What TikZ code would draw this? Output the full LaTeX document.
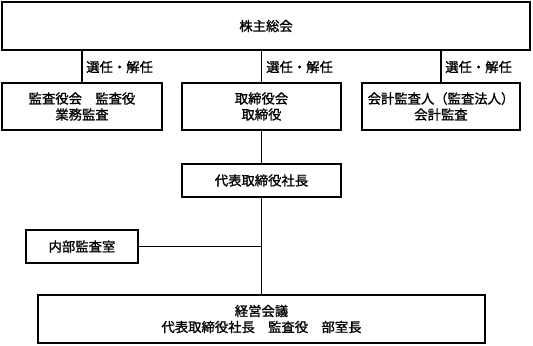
\documentclass[tikz,border=0pt]{standalone}
\usepackage{fontspec}
\newfontfamily\jp[AutoFakeBold=1.2]{Noto Sans CJK JP}
\begin{document}
\begin{tikzpicture}[x=0.75pt,y=-0.75pt,
  box/.style={draw=black,line width=0.9pt,inner sep=0pt,align=center,
    font=\jp\bfseries\fontsize{10}{12}\selectfont},
  lab/.style={inner sep=0pt,font=\jp\bfseries\fontsize{10}{12}\selectfont},
  conn/.style={line width=0.9pt}]
\useasboundingbox (0,0) rectangle (533,346);
\node[box,minimum width=396pt,minimum height=36pt] (top) at (266,26) {株主総会};
\node[box,minimum width=120pt,minimum height=35.25pt] (kansa) at (82,106.5) {監査役会　監査役\\業務監査};
\node[box,minimum width=119.25pt,minimum height=35.25pt] (tori) at (261.5,106.5) {取締役会\\取締役};
\node[box,minimum width=118.5pt,minimum height=35.25pt] (kaikei) at (441,106.5) {会計監査人（監査法人）\\会計監査};
\node[box,minimum width=119.25pt,minimum height=24.75pt] (ceo) at (261.5,180.5) {代表取締役社長};
\node[box,minimum width=84pt,minimum height=24.75pt] (naibu) at (82,246.5) {内部監査室};
\node[box,minimum width=335.25pt,minimum height=36pt] (keiei) at (261.5,319) {経営会議\\代表取締役社長　監査役　部室長};
\coordinate (j) at (261.5,246);
\draw[conn] (kansa.north) -- (kansa.north |- top.south);
\draw[conn] (tori.north) -- (tori.north |- top.south);
\draw[conn] (kaikei.north) -- (kaikei.north |- top.south);
\draw[conn] (tori.south) -- (ceo.north);
\draw[conn] (ceo.south) -- (keiei.north);
\draw[conn] (naibu.east) -- (naibu.east -| j);
\node[lab,anchor=west] (l1) at (86,67) {選任・解任};
\node[lab,anchor=west] (l2) at (266,67) {選任・解任};
\node[lab,anchor=west] (l3) at (445,67) {選任・解任};
\end{tikzpicture}
\end{document}
